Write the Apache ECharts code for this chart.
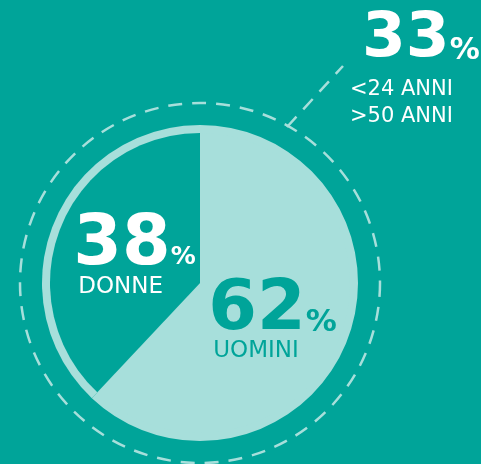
<!DOCTYPE html>
<html>
<head>
<meta charset="utf-8">
<script src="https://cdn.jsdelivr.net/npm/echarts@6/dist/echarts.min.js"></script>
<style>
html, body { margin: 0; padding: 0; background: #00a499; }
#main { width: 481px; height: 464px; }
</style>
</head>
<body>
<div id="main"></div>
<script>
// dati del grafico
var categories = ['UOMINI', 'DONNE'];
var values = [62, 38];
var ageShare = 33;
var ageGroups = ['<24 ANNI', '>50 ANNI'];

var TEAL = '#00a499';
var LIGHT = '#a7dfdb';
var FONT = 'DejaVu Sans';
var center = [200, 283];

var chart = echarts.init(document.getElementById('main'));

function richFor(color, pctSize, pctPad) {
  return {
    num: { fontFamily: FONT, fontWeight: 'bold', fontSize: 70, color: color, lineHeight: 55 },
    pct: { fontFamily: FONT, fontWeight: 'bold', fontSize: pctSize, color: color, verticalAlign: 'bottom', lineHeight: 40, padding: [0, 0, pctPad, 0] },
    name: { fontFamily: FONT, fontSize: 23, color: color, lineHeight: 26, align: 'left', padding: [0, 0, 0, 5] }
  };
}

chart.setOption({
  backgroundColor: TEAL,
  animation: false,
  graphic: [
    {
      type: 'circle', silent: true,
      shape: { cx: center[0], cy: center[1], r: 180 },
      style: { fill: 'none', stroke: LIGHT, lineWidth: 2.5, lineDash: [14, 10] }
    },
    {
      type: 'line', silent: true,
      shape: { x1: 287, y1: 127, x2: 343, y2: 66 },
      style: { stroke: LIGHT, lineWidth: 2.5, lineDash: [14, 10] }
    },
    {
      type: 'text', silent: true, x: 350, y: 4,
      style: {
        text: '{num|' + ageShare + '}{pct|%}\n{sub|' + ageGroups[0] + '}\n{sub|' + ageGroups[1] + '}',
        rich: {
          num: { fontFamily: FONT, fontWeight: 'bold', fontSize: 63, fill: '#fff', lineHeight: 72, padding: [0, 0, 0, 12] },
          pct: { fontFamily: FONT, fontWeight: 'bold', fontSize: 30, fill: '#fff', verticalAlign: 'bottom', lineHeight: 44, padding: [0, 0, 10, 0] },
          sub: { fontFamily: FONT, fontSize: 21, fill: '#fff', lineHeight: 27 }
        }
      }
    }
  ],
  series: [
    {
      // anello chiaro esterno
      type: 'pie',
      silent: true,
      center: center,
      radius: [0, 158],
      startAngle: 90,
      label: { show: false },
      labelLine: { show: false },
      itemStyle: { color: LIGHT, borderWidth: 0 },
      data: values.map(function (v, i) { return { name: categories[i], value: v }; })
    },
    {
      type: 'pie',
      silent: true,
      center: center,
      radius: [0, 150],
      startAngle: 90,
      avoidLabelOverlap: false,
      labelLine: { show: false },
      labelLayout: function (p) {
        return p.dataIndex === 0 ? { dx: 0, dy: 12 } : { dx: 7, dy: 5 };
      },
      data: values.map(function (v, i) {
        var isMen = i === 0;
        return {
          name: categories[i],
          value: v,
          itemStyle: { color: isMen ? LIGHT : TEAL, borderWidth: 0 },
          label: {
            show: true,
            position: 'inside',
            formatter: '{num|' + v + '}{pct|%}\n{name|' + categories[i] + '}',
            rich: isMen ? richFor(TEAL, 31, 0) : richFor('#fff', 25, 4)
          }
        };
      })
    }
  ]
});
</script>
</body>
</html>
